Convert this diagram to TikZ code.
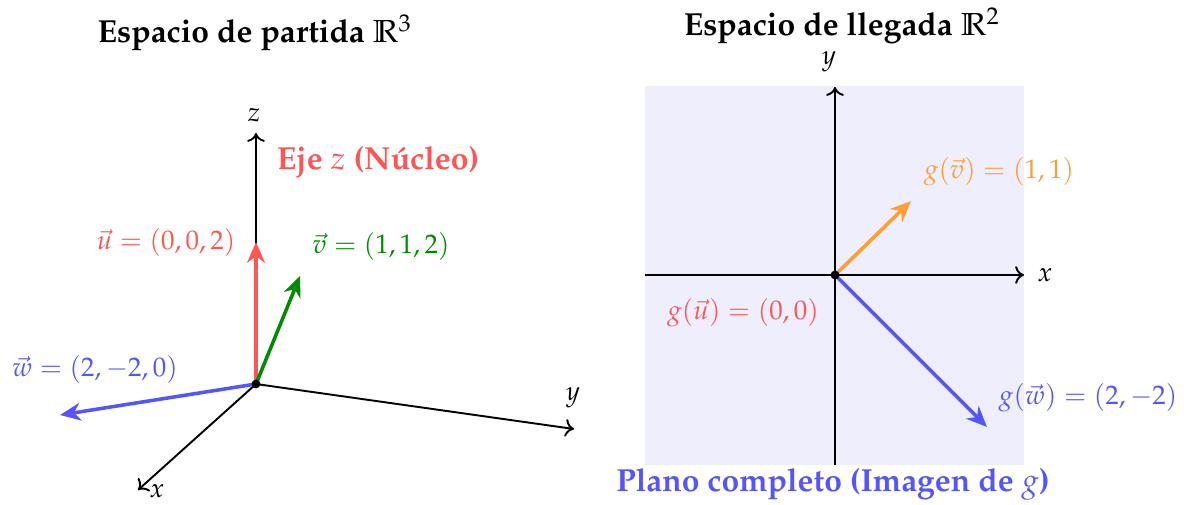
\documentclass[tikz,border=0pt]{standalone}
\usepackage[T1]{fontenc}
\usepackage{mathpazo}
\usepackage{amssymb}
\usetikzlibrary{arrows.meta}
\definecolor{cred}{RGB}{255,85,85}
\definecolor{cgreen}{RGB}{0,140,0}
\definecolor{cblue}{RGB}{85,85,255}
\definecolor{corange}{RGB}{255,158,51}
\definecolor{cback}{RGB}{238,238,253}
\tikzset{
  axis/.style={line width=0.65pt,-{To[length=3pt,width=6pt]}},
  vecarrow/.style={line width=1.2pt,-{Stealth[length=7pt,width=6pt,inset=2.2pt]}},
  lbl/.style={inner sep=0pt,font=\fontsize{9.1}{11}\selectfont},
  ttl/.style={inner sep=0pt,font=\fontsize{10.8}{13}\selectfont\bfseries},
  dot/.style={circle,fill=black,inner sep=0pt,minimum size=3pt}
}
\begin{document}
\begin{tikzpicture}[x=0.339pt,y=-0.339pt]
\useasboundingbox (0,0) rectangle (1184,504);
% ---------- left panel ----------
\node[ttl] (t1) at (255,33) {Espacio de partida $\mathbb{R}^3$};
\coordinate (O1) at (256,384);
\coordinate (zE) at (256,133);
\coordinate (yE) at (574,429);
\coordinate (xE) at (138,490);
\draw[axis] (O1) -- (zE);
\draw[axis] (O1) -- (yE);
\draw[axis] (O1) -- (xE);
\coordinate (k1) at (256,172);
\coordinate (k2) at (256,250);
\draw[line width=0.95pt] (k1) -- (k2);
\node[lbl] (zl) at (254,115) {$z$};
\node[lbl] (yl) at (573,398) {$y$};
\node[lbl] (xl) at (157,491) {$x$};
\coordinate (uT) at (256,242);
\coordinate (vT) at (300,276);
\coordinate (wT) at (60,415);
\draw[vecarrow,cred] (O1) -- (uT);
\draw[vecarrow,cgreen] (O1) -- (vT);
\draw[vecarrow,cblue] (O1) -- (wT);
\node[dot] (o1d) at (O1) {};
\node[lbl,text=cred] (ul) at (166,243) {$\vec{u}=(0,0,2)$};
\node[lbl,text=cgreen] (vl) at (381,247) {$\vec{v}=(1,1,2)$};
\node[lbl,text=cblue] (wl) at (95,370) {$\vec{w}=(2,-2,0)$};
\node[ttl,text=cred] (eje) at (378,162) {Eje $z$ (N\'ucleo)};
% ---------- right panel ----------
\node[ttl] (t2) at (842,26) {Espacio de llegada $\mathbb{R}^2$};
\fill[cback] (645,86) rectangle (1024,465);
\coordinate (O2) at (835,275);
\coordinate (xa) at (645,275);
\coordinate (xb) at (1024,275);
\coordinate (ya) at (835,465);
\coordinate (yb) at (835,87);
\draw[axis] (xa) -- (xb);
\draw[axis] (ya) -- (yb);
\node[lbl] (x2) at (1045,275) {$x$};
\node[lbl] (y2) at (829,62) {$y$};
\coordinate (gvT) at (911,201);
\coordinate (gwT) at (987,427);
\draw[vecarrow,corange] (O2) -- (gvT);
\draw[vecarrow,cblue] (O2) -- (gwT);
\node[dot] (o2d) at (O2) {};
\node[lbl,text=corange] (gvl) at (999,172) {$g(\vec{v})=(1,1)$};
\node[lbl,text=cred] (gul) at (743,313) {$g(\vec{u})=(0,0)$};
\node[lbl,text=cblue] (gwl) at (1088,398) {$g(\vec{w})=(2,-2)$};
\node[ttl,text=cblue] (pl) at (833,484) {Plano completo (Imagen de $g$)};
\end{tikzpicture}
\end{document}
